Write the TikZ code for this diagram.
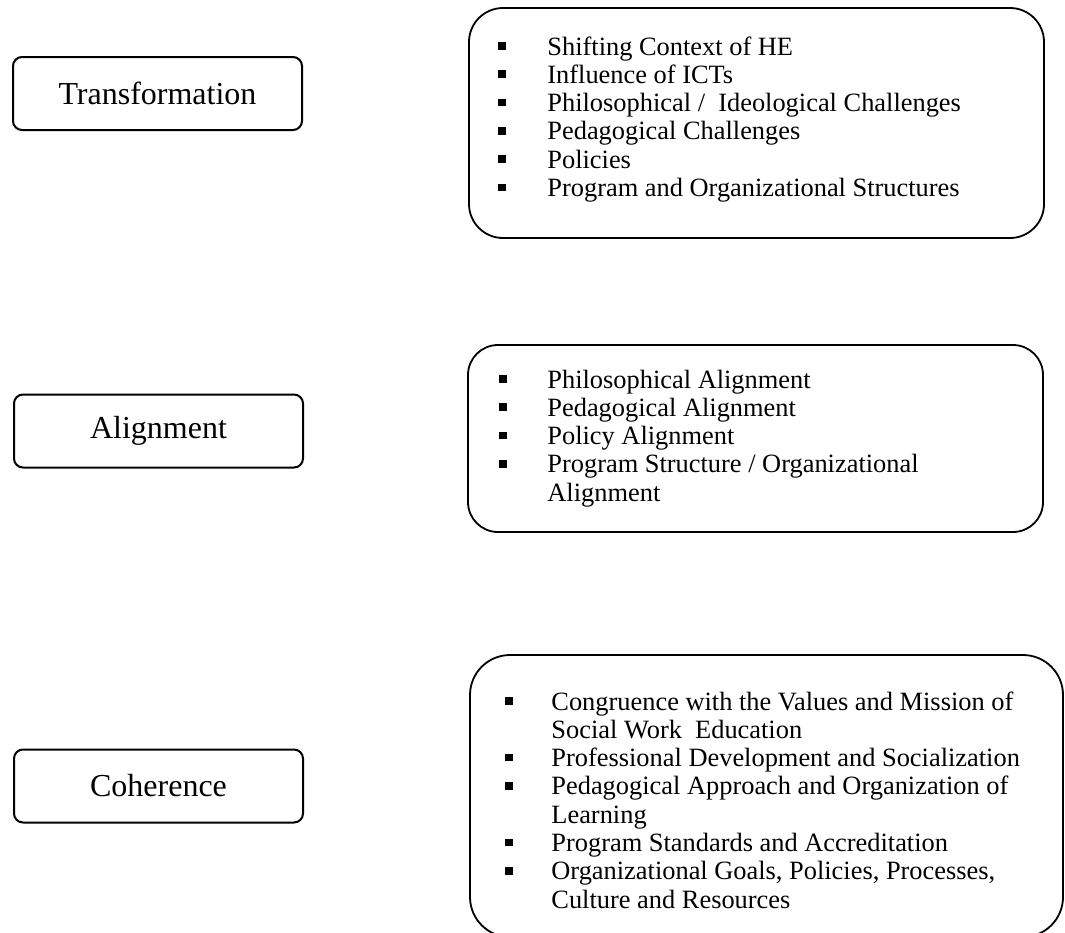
\documentclass[tikz,border=0pt]{standalone}
\usepackage{fontspec}
\setmainfont{Liberation Serif}
\usepackage{array}
\usetikzlibrary{positioning}
\tikzstyle{lbl}=[rectangle,rounded corners=4.5pt,draw=black,line width=1pt,
  minimum width=144.5pt,minimum height=36.5pt,inner sep=0pt,
  font=\fontsize{16}{19}\selectfont]
\tikzstyle{grp}=[rectangle,draw=black,line width=0.9pt,inner sep=0pt]
\tikzstyle{items}=[anchor=base west,inner sep=0pt,
  font=\fontsize{13.2}{14.15}\selectfont]
\tikzstyle{none}=[]
\newcommand{\sqbul}{\rule[2.6pt]{3.6pt}{3.9pt}}

\begin{document}
\begin{tikzpicture}[x=0.5pt,y=-0.5pt]
	\useasboundingbox (0,0) rectangle (1065,932);
	% stage labels
	\node [style=lbl] (0) at (157.5, 93.5) {Transformation};
	\node [style=lbl] (1) at (158.5, 431) {Alignment};
	\node [style=lbl] (2) at (158.5, 786) {Coherence};
	% list frames
	\node [style=grp, rounded corners=17pt, minimum width=287.5pt, minimum height=115pt] (3) at (756.5, 123) {};
	\node [style=grp, rounded corners=15pt, minimum width=287.5pt, minimum height=93.5pt] (4) at (755.5, 438.5) {};
	\node [style=grp, rounded corners=20pt, minimum width=296.5pt, minimum height=141pt] (5) at (766.5, 796) {};
	% bullet lists
	\node [style=items] (6) at (498, 55) {\begin{tabular}[t]{@{}p{24.5pt}@{}l@{}}
		\sqbul & Shifting Context of HE\\
		\sqbul & Influence of ICTs\\
		\sqbul & Philosophical / \ Ideological Challenges\\
		\sqbul & Pedagogical Challenges\\
		\sqbul & Policies\\
		\sqbul & Program and Organizational Structures
	\end{tabular}};
	\node [style=items] (7) at (499, 388) {\begin{tabular}[t]{@{}p{24pt}@{}l@{}}
		\sqbul & Philosophical Alignment\\
		\sqbul & Pedagogical Alignment\\
		\sqbul & Policy Alignment\\
		\sqbul & Program Structure / Organizational\\
		       & Alignment
	\end{tabular}};
	\node [style=items] (8) at (505, 710) {\begin{tabular}[t]{@{}p{23pt}@{}l@{}}
		\sqbul & Congruence with the Values and Mission of\\
		       & Social Work \ Education\\
		\sqbul & Professional Development and Socialization\\
		\sqbul & Pedagogical Approach and Organization of\\
		       & Learning\\
		\sqbul & Program Standards and Accreditation\\
		\sqbul & Organizational Goals, Policies, Processes,\\
		       & Culture and Resources
	\end{tabular}};
\end{tikzpicture}
\end{document}
